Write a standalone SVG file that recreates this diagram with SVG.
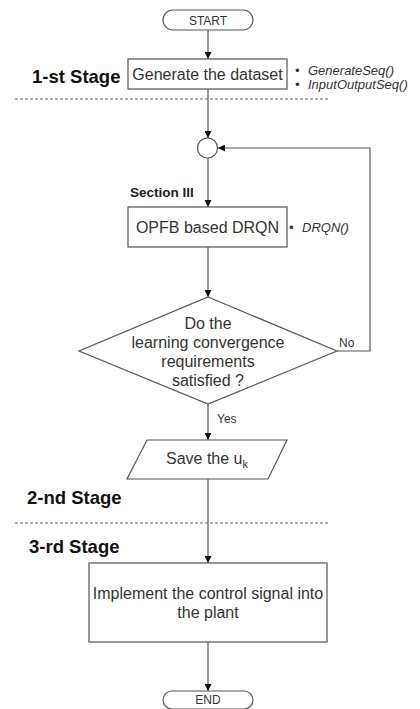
<svg xmlns="http://www.w3.org/2000/svg" width="420" height="709" viewBox="0 0 420 709">
<style>
.shape{fill:#fff;stroke:#555;stroke-width:1.2}
.conn{fill:none;stroke:#555;stroke-width:1.2}
.dash{fill:none;stroke:#666;stroke-width:1;stroke-dasharray:3,2}
text{font-family:"Liberation Sans",Arial,sans-serif;fill:#333}
.t{font-size:16px;text-anchor:middle}
.term{font-size:12px;text-anchor:middle}
.stage{font-size:18.5px;font-weight:bold;fill:#111}
.it{font-size:13px;font-style:italic}
.lbl{font-size:12px}
</style>
<defs>
<marker id="arr" viewBox="0 0 10 10" refX="10" refY="5" markerWidth="7" markerHeight="7" orient="auto" markerUnits="userSpaceOnUse">
<path d="M0,0 L10,5 L0,10 z" fill="#111"/>
</marker>
</defs>
<g id="stage-labels">
<text class="stage" x="32" y="83">1-st Stage</text>
<line class="dash" x1="15" y1="99" x2="330" y2="99"/>
<text x="130" y="197" style="font-size:13.5px;font-weight:bold;fill:#222">Section III</text>
<text class="stage" x="27" y="504">2-nd Stage</text>
<line class="dash" x1="15" y1="523" x2="330" y2="523"/>
<text class="stage" x="29" y="553">3-rd Stage</text>
</g>
<g id="connectors">
<line class="conn" x1="208" y1="30" x2="208" y2="59" marker-end="url(#arr)"/>
<line class="conn" x1="208" y1="89" x2="208" y2="138" marker-end="url(#arr)"/>
<line class="conn" x1="208" y1="158" x2="208" y2="207" marker-end="url(#arr)"/>
<line class="conn" x1="208" y1="247" x2="208" y2="297" marker-end="url(#arr)"/>
<polyline class="conn" points="337,351 370,351 370,148 218,148" marker-end="url(#arr)"/>
<line class="conn" x1="208" y1="404" x2="208" y2="440" marker-end="url(#arr)"/>
<line class="conn" x1="208" y1="479" x2="208" y2="563" marker-end="url(#arr)"/>
<line class="conn" x1="208" y1="642" x2="208" y2="691" marker-end="url(#arr)"/>
<text class="lbl" x="339" y="347">No</text>
<text class="lbl" x="217" y="423">Yes</text>
</g>
<g id="start">
<rect class="shape" x="163" y="10" width="90" height="20" rx="10"/>
<text class="term" x="208" y="24.5">START</text>
</g>
<g id="generate">
<rect class="shape" x="128" y="59" width="159" height="30"/>
<text class="t" x="207.5" y="80">Generate the dataset</text>
<text class="it" x="295" y="74.5">•</text>
<text class="it" x="308" y="74.5">GenerateSeq()</text>
<text class="it" x="295" y="89">•</text>
<text class="it" x="308" y="89">InputOutputSeq()</text>
</g>
<g id="junction">
<circle class="shape" cx="207.5" cy="148" r="10"/>
</g>
<g id="drqn">
<rect class="shape" x="128" y="207" width="159" height="40"/>
<text class="t" x="207.5" y="232.5">OPFB based DRQN</text>
<text class="it" x="289" y="232">•</text>
<text class="it" x="302" y="232">DRQN()</text>
</g>
<g id="decision">
<polygon class="shape" points="208,297 337,351 208,404 79,351"/>
<text class="t" x="208" y="328.5">Do the</text>
<text class="t" x="208" y="347.5">learning convergence</text>
<text class="t" x="208" y="366.5">requirements</text>
<text class="t" x="208" y="385.5">satisfied ?</text>
</g>
<g id="save">
<polygon class="shape" points="147,440 287,440 268,479 127,479"/>
<text class="t" x="207" y="464">Save the u<tspan dy="4" style="font-size:11px">k</tspan></text>
</g>
<g id="implement">
<rect class="shape" x="89" y="563" width="238" height="79"/>
<text class="t" x="208" y="598.5">Implement the control signal into</text>
<text class="t" x="208" y="617.5">the plant</text>
</g>
<g id="end">
<rect class="shape" x="163" y="691" width="90" height="18" rx="9"/>
<text class="term" x="208" y="704">END</text>
</g>
</svg>
